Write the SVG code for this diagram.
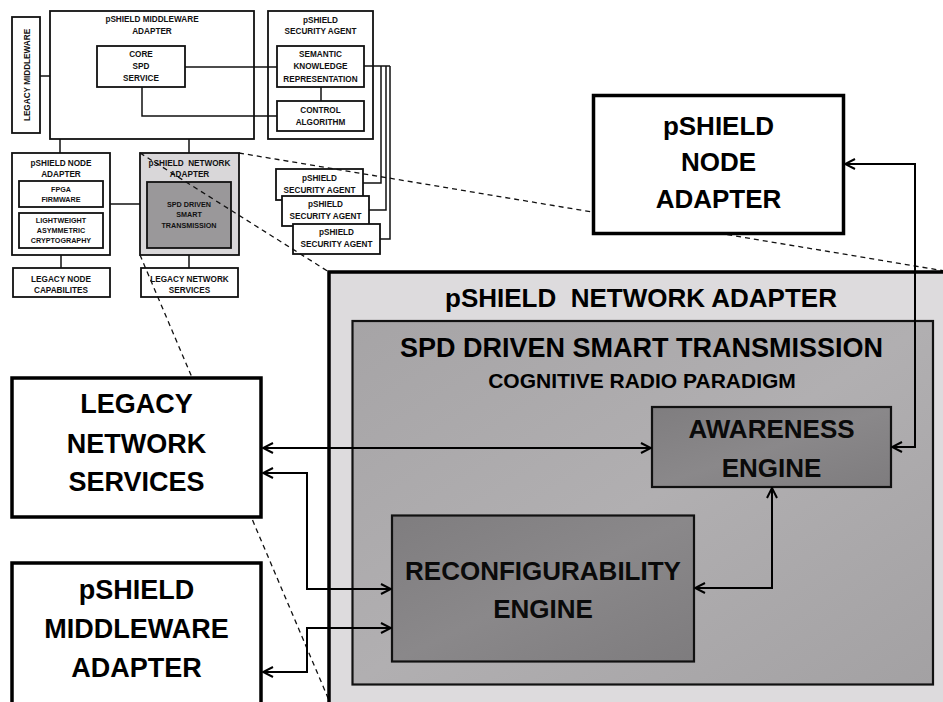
<svg xmlns="http://www.w3.org/2000/svg" width="943" height="702" viewBox="0 0 943 702">
<defs>
<style>
text{font-family:"Liberation Sans",Arial,sans-serif;font-weight:bold;fill:#111;text-anchor:middle}
.s{font-size:8.2px}
.xs{font-size:7.2px}
.sb{fill:#fff;stroke:#111;stroke-width:1.8}
.sl{fill:none;stroke:#111;stroke-width:1.5}
.dash{fill:none;stroke:#111;stroke-width:1.3;stroke-dasharray:5 4}
.bb{fill:#fff;stroke:#000;stroke-width:3.5}
.bt{font-size:26px;fill:#000}
.et{font-size:26px;fill:#0a0a0a}
.con{fill:none;stroke:#000;stroke-width:2;marker-start:url(#ah);marker-end:url(#ah)}
</style>
<linearGradient id="gSpd" x1="0" y1="0" x2="1" y2="1">
<stop offset="0" stop-color="#a6a4a6"/><stop offset="0.5" stop-color="#b1afb1"/><stop offset="1" stop-color="#a3a1a3"/>
</linearGradient>
<linearGradient id="gEng" x1="0" y1="0" x2="1" y2="1">
<stop offset="0" stop-color="#7f7d7f"/><stop offset="0.5" stop-color="#8a888a"/><stop offset="1" stop-color="#7e7c7e"/>
</linearGradient>
<marker id="ah" viewBox="0 0 12 12" refX="11" refY="6" markerWidth="12" markerHeight="12" orient="auto-start-reverse" markerUnits="userSpaceOnUse">
<path d="M1,1 L11,6 L1,11" fill="none" stroke="#000" stroke-width="2"/>
</marker>
</defs>
<rect width="943" height="702" fill="#fff"/>

<!-- small overview diagram -->
<g id="s-legacy-middleware">
<rect class="sb" x="12" y="17" width="28" height="116"/>
<text class="s" transform="translate(29.5,75) rotate(-90)">LEGACY MIDDLEWARE</text>
</g>
<g id="s-middleware-adapter">
<rect class="sb" x="50" y="11" width="204" height="128"/>
<text class="s" x="152" y="22">pSHIELD MIDDLEWARE</text>
<text class="s" x="152" y="34">ADAPTER</text>
</g>
<g id="s-core">
<rect class="sb" x="97" y="46" width="88" height="41"/>
<text class="s" x="141" y="57">CORE</text>
<text class="s" x="141" y="69">SPD</text>
<text class="s" x="141" y="81">SERVICE</text>
</g>
<g id="s-security-agent">
<rect class="sb" x="268" y="11" width="105" height="128"/>
<text class="s" x="320.5" y="23">pSHIELD</text>
<text class="s" x="320.5" y="34">SECURITY AGENT</text>
</g>
<g id="s-semantic">
<rect class="sb" x="277" y="46" width="87" height="41"/>
<text class="s" x="320.5" y="57">SEMANTIC</text>
<text class="s" x="320.5" y="69">KNOWLEDGE</text>
<text class="s" x="320.5" y="82">REPRESENTATION</text>
</g>
<g id="s-control">
<rect class="sb" x="277" y="101" width="87" height="30"/>
<text class="s" x="320.5" y="113">CONTROL</text>
<text class="s" x="320.5" y="125">ALGORITHM</text>
</g>
<g id="s-node-adapter">
<rect class="sb" x="12" y="153" width="98" height="102"/>
<text class="s" x="61" y="166">pSHIELD NODE</text>
<text class="s" x="61" y="177">ADAPTER</text>
</g>
<g id="s-fpga">
<rect class="sb" x="19" y="181" width="84" height="26"/>
<text class="xs" x="61" y="192">FPGA</text>
<text class="xs" x="61" y="202">FIRMWARE</text>
</g>
<g id="s-crypto">
<rect class="sb" x="19" y="213" width="84" height="35"/>
<text class="xs" x="61" y="223">LIGHTWEIGHT</text>
<text class="xs" x="61" y="233">ASYMMETRIC</text>
<text class="xs" x="61" y="243">CRYPTOGRAPHY</text>
</g>
<g id="s-legacy-node">
<rect class="sb" x="13" y="268" width="97" height="29"/>
<text class="s" x="61" y="282">LEGACY NODE</text>
<text class="s" x="61" y="293">CAPABILITES</text>
</g>
<g id="s-network-adapter">
<rect class="sb" x="140" y="153" width="99" height="102" style="fill:#d9d7d9"/>
<text class="s" x="189.5" y="166" xml:space="preserve">pSHIELD  NETWORK</text>
<text class="s" x="189.5" y="177">ADAPTER</text>
</g>
<g id="s-spd">
<rect class="sb" x="147" y="182" width="84" height="66" style="fill:#9a989a"/>
<text class="xs" x="189" y="207">SPD DRIVEN</text>
<text class="xs" x="189" y="217">SMART</text>
<text class="xs" x="189" y="228">TRANSMISSION</text>
</g>
<g id="s-legacy-network">
<rect class="sb" x="141" y="268" width="97" height="29"/>
<text class="s" x="189.5" y="282">LEGACY NETWORK</text>
<text class="s" x="189.5" y="293">SERVICES</text>
</g>
<g id="s-agent-1">
<rect class="sb" x="276" y="169" width="87" height="31"/>
<text class="s" x="319.5" y="181">pSHIELD</text>
<text class="s" x="319.5" y="193">SECURITY AGENT</text>
</g>
<g id="s-agent-2">
<rect class="sb" x="282" y="196" width="87" height="30"/>
<text class="s" x="325.5" y="207">pSHIELD</text>
<text class="s" x="325.5" y="219">SECURITY AGENT</text>
</g>
<g id="s-agent-3">
<rect class="sb" x="293" y="224" width="87" height="30"/>
<text class="s" x="336.5" y="235">pSHIELD</text>
<text class="s" x="336.5" y="247">SECURITY AGENT</text>
</g>
<g id="small-lines">
<path class="sl" d="M40 76 H50"/>
<path class="sl" d="M185 67 H277"/>
<path class="sl" d="M142 87 V116 H277"/>
<path class="sl" d="M321 87 V101"/>
<path class="sl" d="M364 66 H390"/>
<path class="sl" d="M381 66 V183 H363"/>
<path class="sl" d="M386 66 V210 H369"/>
<path class="sl" d="M390 66 V239 H380"/>
<path class="sl" d="M60 139 V153"/>
<path class="sl" d="M189 139 V153"/>
<path class="sl" d="M61 255 V268"/>
<path class="sl" d="M189 255 V268"/>
<path class="sl" d="M110 204 H140"/>
</g>

<!-- zoom projection lines -->
<g id="zoom-lines">
<path class="dash" d="M140 153 L329 272"/>
<path class="dash" d="M239 153 L945 271"/>
<path class="dash" d="M140 255 L331 705"/>
</g>

<!-- enlarged network adapter -->
<g id="network-adapter">
<rect x="329" y="272" width="640" height="460" fill="#dddbdd" stroke="#000" stroke-width="3.5"/>
<text class="bt" x="641" y="307" xml:space="preserve">pSHIELD  NETWORK ADAPTER</text>
</g>
<g id="spd-smart-transmission">
<rect x="352.5" y="321" width="580.5" height="363.5" fill="url(#gSpd)" stroke="#111" stroke-width="2.2"/>
<text class="bt" x="641.5" y="357" style="font-size:27px">SPD DRIVEN SMART TRANSMISSION</text>
<text class="bt" x="642" y="388" style="font-size:21px">COGNITIVE RADIO PARADIGM</text>
</g>
<g id="awareness-engine">
<rect x="652" y="407" width="239" height="80" fill="url(#gEng)" stroke="#111" stroke-width="2.2"/>
<text class="et" x="771.5" y="438">AWARENESS</text>
<text class="et" x="771.5" y="477">ENGINE</text>
</g>
<g id="reconfigurability-engine">
<rect x="392" y="515.5" width="302" height="146" fill="url(#gEng)" stroke="#111" stroke-width="2.2"/>
<text class="et" x="543" y="580">RECONFIGURABILITY</text>
<text class="et" x="543" y="618">ENGINE</text>
</g>
<g id="node-adapter">
<rect class="bb" x="593.5" y="95.5" width="250" height="138"/>
<text class="bt" x="718.5" y="135">pSHIELD</text>
<text class="bt" x="718.5" y="171">NODE</text>
<text class="bt" x="718.5" y="208">ADAPTER</text>
</g>
<g id="legacy-network-services">
<rect class="bb" x="12" y="378" width="249" height="139"/>
<text class="bt" x="136.5" y="413" style="font-size:27px">LEGACY</text>
<text class="bt" x="136.5" y="453" style="font-size:27px">NETWORK</text>
<text class="bt" x="136.5" y="491" style="font-size:27px">SERVICES</text>
</g>
<g id="middleware-adapter">
<rect class="bb" x="12" y="563" width="249" height="160"/>
<text class="bt" x="136.5" y="599" style="font-size:27px">pSHIELD</text>
<text class="bt" x="136.5" y="638" style="font-size:27px">MIDDLEWARE</text>
<text class="bt" x="136.5" y="677" style="font-size:27px">ADAPTER</text>
</g>

<!-- connectors -->
<g id="connectors">
<path class="con" d="M263 448 H651"/>
<path class="con" d="M263 473 H307 V589 H391"/>
<path class="con" d="M263 672 H307 V628 H391"/>
<path class="con" d="M695 588 H772 V488"/>
<path class="con" d="M892 447 H915 V164 H845"/>
</g>
</svg>
